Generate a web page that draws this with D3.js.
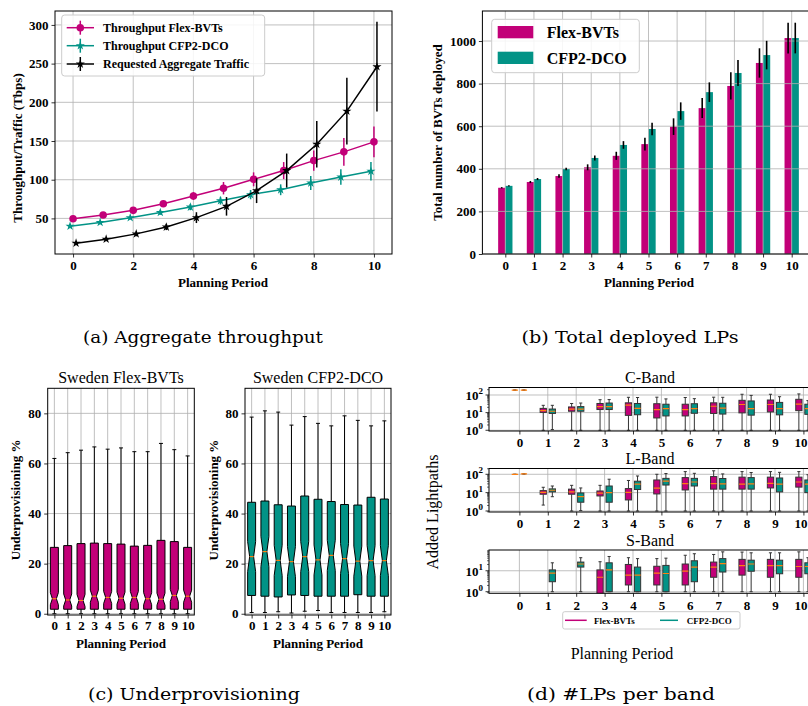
<!DOCTYPE html>
<html><head><meta charset="utf-8">
<script src="https://cdn.jsdelivr.net/npm/d3@7"></script>
<style>body{margin:0;background:#fff}svg{display:block}</style>
</head><body>
<svg id="fig" width="808" height="706"></svg>
<script>
// ---------------- DATA ----------------
const periods = [0,1,2,3,4,5,6,7,8,9,10];
// (a) throughput / traffic (Tbps)
const thrFlex    = [49.5,54.4,60.4,69,78.9,89,100.5,111.8,124.7,136,148.9];
const thrFlexErr = [2,2,2,3,5,8,9,11,13,18,20];
const thrCfp     = [40,44.8,50.9,57.7,64.6,72.9,80.7,87,95.7,103.5,110.9];
const thrCfpErr  = [2,2,2,3,4,5,6,7,9,10,12];
const traffic    = [18,23.2,30,38.9,51,65.6,85.8,111.8,145.8,188.6,246];
const trafficErr = [2,2,3,4,7,12,16,22,30,43,58];
const aLegend = ["Throughput Flex-BVTs","Throughput CFP2-DCO","Requested Aggregate Traffic"];
// (b) total BVTs deployed
const bvtFlex    = [311,338,366,407,461,516,598,685,789,897,1014];
const bvtFlexErr = [3,5,8,14,19,30,39,47,64,69,72];
const bvtCfp     = [320,352,399,451,512,587,671,760,850,934,1014];
const bvtCfpErr  = [3,5,6,12,18,29,41,46,61,67,72];
const bLegend = ["Flex-BVTs","CFP2-DCO"];
// (c) underprovisioning % : [whiskerLow, q1, median, q3, whiskerHigh]
const upFlex = [
  [0,1.8,6,26.5,62],[0,1.8,5.5,27.2,64.3],[0,1.8,5.3,28,65.3],[0,1.8,7,28.2,66.6],
  [0,1.8,6.5,28,65.7],[0,1.8,6.2,27.8,66.2],[0,1.8,6.5,27,64.7],[0,1.8,6,27.3,64.7],
  [0,1.8,5.8,29.3,68],[0,1.8,7.3,28.8,65.5],[0,1.8,7,26.5,63]];
const upFlexCI = [2.4,2.4,2.4,2.4,2.4,2.4,2.4,2.4,2.4,2.4,2.4];
const upCfp = [
  [0.5,7.3,22.8,44.5,78.5],[0.5,7,24.8,45,81],[0.8,6.7,21.3,43.5,80.5],[0.3,7.5,20.8,43,75.3],
  [1,7.3,22.8,47,78.7],[1.3,7,21.5,45.7,76],[0.5,7,23.3,44.8,75],[0.5,7,22,43.6,79],
  [0.5,7.6,21,43.4,77.2],[0.5,7,21.2,46.5,75],[0.8,7,21.2,45.8,77]];
const upCfpCI = [6,6,6,6,6,6,6,6,6,6,6];
const cTitles = ["Sweden Flex-BVTs","Sweden CFP2-DCO"];
// (d) added lightpaths per band : [whiskerLow, q1, median, q3, whiskerHigh]
const cBandFlex = [[190,190,190,190,190],[1,10.3,13,17.4,26],[1,12,16,21,33],[1,15,22,33,54],
  [1,7,27,36,74],[1,5,15,32,75],[1,6.5,15,30,72],[1,9,23,36,75],[1,9.7,29,50,110],[1,11,29,52,110],[1,13,30,57,115]];
const cBandCfp = [[190,190,190,190,190],[1.1,9,12,16,26],[1,12,16,22,35],[1,15,22,35,55],
  [1,7.6,17.5,33,72],[1,6.5,17,30,60],[1,9.2,17,32,62],[1,8.3,18,34,74],[1,7.2,17,46,95],[1,7.5,17,38,80],[1,8,17,30,48]];
const lBandFlex = [[100,100,100,100,100],[2.1,8.2,10.3,12.9,19.6],[1,8.2,11,15.5,25],[1,6.6,9.3,12.3,25],
  [1,4,10.3,16.6,46],[1,8.5,17.5,49,100],[1,14,31,66,140],[1,15.5,31,75,155],[1,15.5,29,70,140],[1,18,32,70,140],[1,20,38,70,140]];
const lBandCfp = [[105,105,105,105,105],[6,11,13.5,16,23],[1.05,3,6,9.6,18],[1,3,10,23,54],
  [1,14.8,29,42,81],[1,26,42,60,110],[1,23,38,60,113],[1,15.5,30,59,105],[1,15.5,30,66,125],[1,11,29,63,128],[1,10,29,49,95]];
const sBandFlex = [null,null,null,[0.5,0.5,4.9,11,27],[1,2.1,6.2,20,42],[1,2.1,7.7,16.4,38],[1,2.1,9.6,21,55],
  [1,4.9,15,26,60],[1,6.2,17.5,35,78],[1,4.9,17.5,35,72],[1,4.9,16,35,80]];
const sBandCfp = [null,[1,3,7.7,11,24],[1,15,21,26,42],[1,1,11,24,48],[1,1,6.2,15,38],[1,1,7.4,18,40],
  [1,3,15,30,65],[1,8.7,22,38,80],[1,9.5,21,32,72],[1,7.2,17.5,32,72],[1,7.2,16,24,42]];
const bandNames = ["C-Band","L-Band","S-Band"];
const captions = ["(a) Aggregate throughput","(b) Total deployed LPs","(c) Underprovisioning","(d) #LPs per band"];

// ---------------- STYLE ----------------
const SERIF = "'Liberation Serif','Times New Roman',serif";
const CAP = "'DejaVu Serif',serif";
const MAG = "#c20078", TEAL = "#029386", ORANGE = "#ff7f0e", GRID = "#b0b0b0";
const W = 808;
const svg = d3.select("#fig");

function styleAxis(g, size) {
  g.select(".domain").remove();
  g.selectAll(".tick line").attr("stroke", "#000").attr("stroke-width", 0.8);
  g.selectAll(".tick text").attr("font-family", SERIF).attr("font-weight", "bold")
    .attr("font-size", size).attr("fill", "#000");
}
function label(x, y, txt, opts = {}) {
  const t = svg.append("text").attr("x", x).attr("y", y).text(txt)
    .attr("font-family", opts.family || SERIF)
    .attr("font-weight", opts.weight || "bold")
    .attr("font-size", opts.size || 13)
    .attr("text-anchor", opts.anchor || "middle")
    .attr("dominant-baseline", "central").attr("fill", "#000");
  if (opts.rotate) t.attr("transform", `rotate(-90,${x},${y})`);
  if (opts.len) t.attr("textLength", opts.len).attr("lengthAdjust", "spacingAndGlyphs");
  return t;
}
function frame(x0, y0, x1, y1) {
  svg.append("rect").attr("x", x0).attr("y", y0).attr("width", x1 - x0).attr("height", y1 - y0)
    .attr("fill", "none").attr("stroke", "#000").attr("stroke-width", 1);
}
function gridLines(g, xs, ys, xScale, yScale) {
  const [x0, x1] = xScale.range(), [y0, y1] = yScale.range();
  g.selectAll(null).data(xs).join("line").attr("x1", d => xScale(d)).attr("x2", d => xScale(d))
    .attr("y1", y0).attr("y2", y1).attr("stroke", GRID).attr("stroke-width", 0.8);
  g.selectAll(null).data(ys).join("line").attr("y1", d => yScale(d)).attr("y2", d => yScale(d))
    .attr("x1", x0).attr("x2", x1).attr("stroke", GRID).attr("stroke-width", 0.8);
}
// keep tick labels that would run past the right edge inside the picture
function keepInside(gx) {
  gx.selectAll(".tick").each(function () {
    const tick = d3.select(this), txt = tick.select("text");
    const tx = +tick.attr("transform").match(/translate\(([-\d.]+)/)[1];
    const bb = txt.node().getBBox();
    if (tx + bb.x + bb.width > W - 0.5) txt.attr("x", W - 0.5 - tx - bb.width / 2);
  });
}

// ---------------- (a) ----------------
{
  const x = d3.scaleLinear().domain([-0.6, 10.6]).range([55, 392]);
  const y = d3.scaleLinear().domain([4, 318]).range([254, 11]);
  const g = svg.append("g");
  gridLines(g, [0,2,4,6,8,10], [50,100,150,200,250,300], x, y);
  const series = [
    {v: thrFlex, e: thrFlexErr, c: MAG, off: 0, m: "circle"},
    {v: thrCfp, e: thrCfpErr, c: TEAL, off: -0.1, m: "star"},
    {v: traffic, e: trafficErr, c: "#000", off: 0.1, m: "star"}];
  const symOf = s => s.m === "circle" ? d3.symbol(d3.symbolCircle, 45) : d3.symbol(d3.symbolStar, 26);
  series.forEach(s => {
    const sg = g.append("g");
    sg.selectAll(null).data(periods).join("line")
      .attr("x1", i => x(i + s.off)).attr("x2", i => x(i + s.off))
      .attr("y1", i => y(s.v[i] - s.e[i])).attr("y2", i => y(s.v[i] + s.e[i]))
      .attr("stroke", s.c).attr("stroke-width", 1.5);
    sg.append("path").datum(periods)
      .attr("d", d3.line().x(i => x(i + s.off)).y(i => y(s.v[i])))
      .attr("fill", "none").attr("stroke", s.c).attr("stroke-width", 1.5);
    sg.selectAll(null).data(periods).join("path").attr("d", symOf(s))
      .attr("transform", i => `translate(${x(i + s.off)},${y(s.v[i])})`).attr("fill", s.c);
  });
  const gx = svg.append("g").attr("transform", "translate(0,254)")
    .call(d3.axisBottom(x).tickValues([0,2,4,6,8,10]).tickSize(3.5).tickPadding(3));
  styleAxis(gx, 13);
  const gy = svg.append("g").attr("transform", "translate(55,0)")
    .call(d3.axisLeft(y).tickValues([50,100,150,200,250,300]).tickSize(3.5).tickPadding(3));
  styleAxis(gy, 13);
  frame(55, 11, 392, 254);
  label(223, 282, "Planning Period");
  label(17, 148, "Throughput/Traffic (Tbps)", {rotate: true});
  // legend
  svg.append("rect").attr("x", 61.7).attr("y", 15).attr("width", 203).attr("height", 61).attr("rx", 3)
    .attr("fill", "#fff").attr("fill-opacity", 0.85).attr("stroke", "#ccc");
  [27.7, 45.7, 64].forEach((ly, k) => {
    const s = series[k];
    svg.append("line").attr("x1", 66.7).attr("x2", 94).attr("y1", ly).attr("y2", ly)
      .attr("stroke", s.c).attr("stroke-width", 1.5);
    svg.append("line").attr("x1", 80.3).attr("x2", 80.3).attr("y1", ly - 7).attr("y2", ly + 7)
      .attr("stroke", s.c).attr("stroke-width", 1.5);
    svg.append("path").attr("d", symOf(s)).attr("transform", `translate(80.3,${ly})`).attr("fill", s.c);
    label(103, ly, aLegend[k], {anchor: "start", size: 12});
  });
}

// ---------------- (b) ----------------
{
  const x = d3.scaleLinear().domain([-0.8, 10.8]).range([482.4, 814.6]);
  const y = d3.scaleLinear().domain([0, 1141]).range([254, 11]);
  const bw = 0.25;
  const g = svg.append("g");
  const sets = [{v: bvtFlex, e: bvtFlexErr, c: MAG, off: -bw}, {v: bvtCfp, e: bvtCfpErr, c: TEAL, off: 0}];
  sets.forEach(s => {
    g.selectAll(null).data(periods).join("rect")
      .attr("x", i => x(i + s.off)).attr("width", x(bw) - x(0))
      .attr("y", i => y(s.v[i])).attr("height", i => y(0) - y(s.v[i])).attr("fill", s.c);
  });
  gridLines(g, periods, [0,200,400,600,800,1000], x, y);
  sets.forEach(s => {
    g.selectAll(null).data(periods).join("line")
      .attr("x1", i => x(i + s.off + bw / 2)).attr("x2", i => x(i + s.off + bw / 2))
      .attr("y1", i => y(s.v[i] - s.e[i])).attr("y2", i => y(s.v[i] + s.e[i]))
      .attr("stroke", "#000").attr("stroke-width", 1.6);
  });
  const gx = svg.append("g").attr("transform", "translate(0,254)")
    .call(d3.axisBottom(x).tickValues(periods).tickSize(3.5).tickPadding(3));
  styleAxis(gx, 13);
  const gy = svg.append("g").attr("transform", "translate(482.4,0)")
    .call(d3.axisLeft(y).tickValues([0,200,400,600,800,1000]).tickFormat(d3.format("d")).tickSize(3.5).tickPadding(3));
  styleAxis(gy, 13);
  frame(482.4, 11, 814.6, 254);
  label(649, 282, "Planning Period");
  label(437, 132.5, "Total number of BVTs deployed", {rotate: true});
  svg.append("rect").attr("x", 491.7).attr("y", 19.3).attr("width", 147.6).attr("height", 53.4).attr("rx", 3)
    .attr("fill", "#fff").attr("fill-opacity", 0.85).attr("stroke", "#ccc");
  [[26, 32.5], [51.7, 58]].forEach(([py, ty], k) => {
    svg.append("rect").attr("x", 497.7).attr("y", py).attr("width", 35.6).attr("height", 12.3).attr("fill", sets[k].c);
    label(546.7, ty, bLegend[k], {anchor: "start", size: 16});
  });
}

// ---------------- (c) ----------------
function panelC(x0, x1, data, ci, color, title) {
  const x = d3.scaleLinear().domain([-0.5, 10.5]).range([x0, x1]);
  const y = d3.scaleLinear().domain([-0.5, 90]).range([615, 388.3]);
  const g = svg.append("g");
  gridLines(g, periods, [0,20,40,60,80], x, y);
  const w = 0.6;
  periods.forEach(i => {
    const [lo, q1, med, q3, hi] = data[i];
    const L = x(i - w / 2), R = x(i + w / 2), cL = x(i - w / 4), cR = x(i + w / 4), C = x(i);
    [[q1, lo], [q3, hi]].forEach(([a, b]) => {
      g.append("line").attr("x1", C).attr("x2", C).attr("y1", y(a)).attr("y2", y(b))
        .attr("stroke", "#000").attr("stroke-width", 1);
      g.append("line").attr("x1", cL).attr("x2", cR).attr("y1", y(b)).attr("y2", y(b))
        .attr("stroke", "#000").attr("stroke-width", 1);
    });
    const pts = [[L, y(q1)], [R, y(q1)], [R, y(med - ci[i])], [cR, y(med)], [R, y(med + ci[i])], [R, y(q3)],
      [L, y(q3)], [L, y(med + ci[i])], [cL, y(med)], [L, y(med - ci[i])]];
    g.append("path").attr("d", d3.line()(pts) + "Z").attr("fill", color)
      .attr("stroke", "#000").attr("stroke-width", 1);
    g.append("line").attr("x1", cL).attr("x2", cR).attr("y1", y(med)).attr("y2", y(med))
      .attr("stroke", ORANGE).attr("stroke-width", 1.2);
  });
  const gx = svg.append("g").attr("transform", "translate(0,615)")
    .call(d3.axisBottom(x).tickValues(periods).tickSize(3.5).tickPadding(2));
  styleAxis(gx, 13);
  const gy = svg.append("g").attr("transform", `translate(${x0},0)`)
    .call(d3.axisLeft(y).tickValues([0,20,40,60,80]).tickSize(3.5).tickPadding(3));
  styleAxis(gy, 13);
  frame(x0, 388.3, x1, 615);
  label((x0 + x1) / 2, 377, title, {weight: "normal", size: 16});
  label((x0 + x1) / 2, 643, "Planning Period");
  label(x0 - 32, 500, "Underprovisioning %", {rotate: true});
}
panelC(47.7, 194.3, upFlex, upFlexCI, MAG, cTitles[0]);
panelC(245, 391, upCfp, upCfpCI, TEAL, cTitles[1]);

// ---------------- (d) ----------------
function panelD(top, bottom, domain, tickVals, flex, cfp, title, tickY) {
  const x = d3.scaleLinear().domain([-1.07, 11.07]).range([489, 833.8]);
  const y = d3.scaleLog().domain(domain).range([bottom, top]);
  const id = "clip" + title.replace(/\W/g, "");
  svg.append("clipPath").attr("id", id).append("rect")
    .attr("x", 489).attr("y", top).attr("width", 345).attr("height", bottom - top);
  const g = svg.append("g").attr("clip-path", `url(#${id})`);
  gridLines(g, periods, tickVals, x, y);
  const w = 0.22, offs = [-0.16, 0.16];
  [[flex, MAG], [cfp, TEAL]].forEach(([data, color], k) => {
    periods.forEach(i => {
      const s = data[i];
      if (!s) return;
      const [lo, q1, med, q3, hi] = s;
      const p = i + offs[k];
      const L = x(p - w / 2), R = x(p + w / 2), C = x(p), cL = x(p - w / 4), cR = x(p + w / 4);
      [[q1, lo], [q3, hi]].forEach(([a, b]) => {
        g.append("line").attr("x1", C).attr("x2", C).attr("y1", y(a)).attr("y2", y(b))
          .attr("stroke", "#333").attr("stroke-width", 1);
        g.append("line").attr("x1", cL).attr("x2", cR).attr("y1", y(b)).attr("y2", y(b))
          .attr("stroke", "#333").attr("stroke-width", 1);
      });
      g.append("rect").attr("x", L).attr("width", R - L).attr("y", y(q3)).attr("height", Math.max(0, y(q1) - y(q3)))
        .attr("fill", color).attr("stroke", "#333").attr("stroke-width", 1);
      g.append("line").attr("x1", L).attr("x2", R).attr("y1", y(med)).attr("y2", y(med))
        .attr("stroke", ORANGE).attr("stroke-width", 1.2);
    });
  });
  const gx = svg.append("g").attr("transform", `translate(0,${bottom})`)
    .call(d3.axisBottom(x).tickValues(periods).tickSize(3.5).tickPadding(3));
  styleAxis(gx, 13);
  gx.selectAll(".tick text").attr("y", null).attr("dy", null)
    .attr("dominant-baseline", "central").attr("transform", `translate(0,${tickY - bottom})`);
  keepInside(gx);
  // y ticks (log, with minor ticks)
  const [d0, d1] = domain;
  const minor = [];
  for (let e = -1; e <= 3; e++) for (let m = 2; m <= 9; m++) {
    const v = m * Math.pow(10, e);
    if (v > d0 && v < d1) minor.push(v);
  }
  svg.selectAll(null).data(minor).join("line").attr("x1", 489).attr("x2", 487)
    .attr("y1", d => y(d)).attr("y2", d => y(d)).attr("stroke", "#000").attr("stroke-width", 0.6);
  tickVals.forEach(v => {
    svg.append("line").attr("x1", 489).attr("x2", 485.5).attr("y1", y(v)).attr("y2", y(v))
      .attr("stroke", "#000").attr("stroke-width", 0.8);
    const t = svg.append("text").attr("x", 483).attr("y", y(v) + 5).attr("text-anchor", "end")
      .attr("font-family", SERIF).attr("font-weight", "bold").attr("font-size", 13);
    t.append("tspan").text("10");
    t.append("tspan").attr("dy", -6).attr("font-size", 9).text(Math.round(Math.log10(v)));
  });
  frame(489, top, 833.8, bottom);
  label(650, top - 10, title, {weight: "normal", size: 16});
}
panelD(387.5, 431, [0.91, 266], [1, 10, 100], cBandFlex, cBandCfp, bandNames[0], 442);
panelD(468.5, 512, [0.88, 207], [1, 10, 100], lBandFlex, lBandCfp, bandNames[1], 523);
panelD(550, 593.3, [0.84, 98], [1, 10], sBandFlex, sBandCfp, bandNames[2], 605);
label(432, 512, "Added Lightpaths", {rotate: true, weight: "normal", size: 16});
label(622, 653, "Planning Period", {weight: "normal", size: 16});
// legend (d)
svg.append("rect").attr("x", 562.7).attr("y", 611.7).attr("width", 177.3).attr("height", 17.3).attr("rx", 2)
  .attr("fill", "#fff").attr("fill-opacity", 0.85).attr("stroke", "#ccc");
[[565, 586.7, 594, MAG, bLegend[0]], [660, 678, 686.7, TEAL, bLegend[1]]].forEach(([a, b, t, c, txt]) => {
  svg.append("line").attr("x1", a).attr("x2", b).attr("y1", 620.3).attr("y2", 620.3).attr("stroke", c).attr("stroke-width", 1.5);
  label(t, 620.5, txt, {anchor: "start", size: 9});
});

// ---------------- captions ----------------
label(203, 337, captions[0], {family: CAP, weight: "normal", size: 16, len: 240});
label(630, 337, captions[1], {family: CAP, weight: "normal", size: 16, len: 217});
label(194, 694, captions[2], {family: CAP, weight: "normal", size: 16, len: 212});
label(621, 694, captions[3], {family: CAP, weight: "normal", size: 16, len: 188});
</script>
</body></html>
